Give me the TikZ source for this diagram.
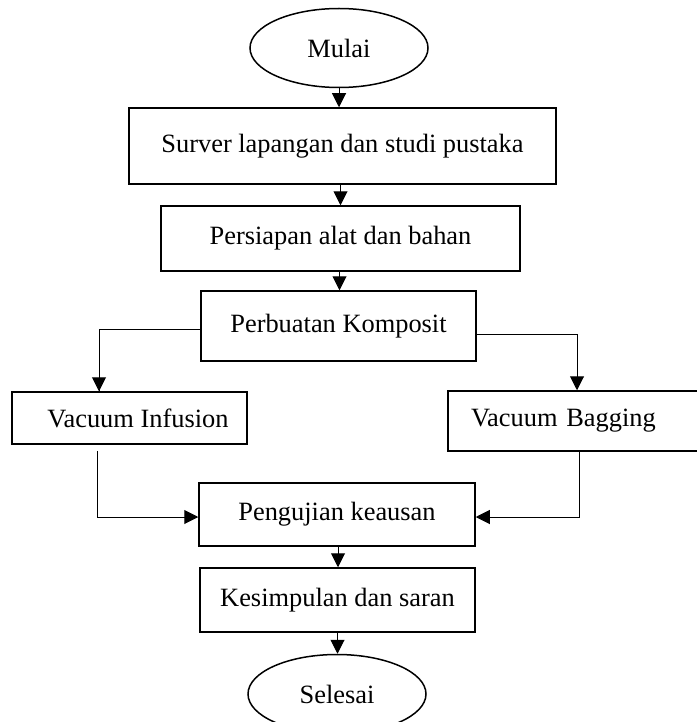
\documentclass[tikz,border=0pt]{standalone}
\usepackage{fontspec}
\setmainfont{Liberation Serif}
\usepackage{tikz}
\usetikzlibrary{arrows.meta,positioning,calc,shapes.geometric}
\tikzset{
  >=Triangle,
  font=\fontsize{26.4}{30}\selectfont,
  % start / end of the flow
  terminal/.style={
    ellipse,
    draw=black,
    line width=1.5pt,
    inner sep=0pt,
    minimum width=178pt,
    minimum height=79pt
  },
  % ordinary step of the flow
  process/.style={
    rectangle,
    draw=black,
    line width=1.5pt,
    inner sep=0pt,
    align=center
  },
  arrow/.style={
    -{Triangle[length=14pt,width=14pt]},
    line width=1pt,
    draw=black
  },
  link/.style={
    line width=1pt,
    draw=black
  }
}
\begin{document}
\begin{tikzpicture}[x=1pt,y=-1pt]
\useasboundingbox (0,0) rectangle (696,722);

\node[terminal] (mulai) at (339,48) {Mulai};

\node[process, minimum width=427pt, minimum height=76pt] (survei) at (342.5,146)
{Surver lapangan dan studi pustaka};
\node[process, minimum width=359pt, minimum height=65pt] (persiapan) at (340.5,238.5)
{Persiapan alat dan bahan};
\node[process, minimum width=275pt, minimum height=70pt] (komposit) at (338.5,326)
{Perbuatan Komposit};

\node[process, minimum width=235pt, minimum height=52pt] (infusion) at (129.5,418)
{\hspace*{17pt}Vacuum Infusion};
\node[process, text width=228pt, inner xsep=23pt, align=left, minimum height=60pt] (bagging) at (585,421)
{Vacuum Bagging};

\node[process, minimum width=276pt, minimum height=63pt] (pengujian) at (337,514.5)
{Pengujian keausan};
\node[process, minimum width=275pt, minimum height=64pt] (kesimpulan) at (337.5,600)
{Kesimpulan dan saran};

\node[terminal] (selesai) at (337,694) {Selesai};

\draw[arrow] (mulai.south) -- (mulai.south |- survei.north);
\draw[arrow] ([xshift=-2pt]survei.south) -- ([xshift=-2pt]survei.south |- persiapan.north);
\draw[arrow] ([xshift=-1pt]persiapan.south) -- ([xshift=-1pt]persiapan.south |- komposit.north);
\draw[link] ([yshift=-3pt]komposit.west) -| ([xshift=-30.5pt]infusion.north) coordinate (infTop);
\draw[arrow] ([yshift=1pt]infTop) -- (infusion.north -| infTop);
\draw[arrow] ([yshift=-8pt]komposit.east) -| ([xshift=-8pt]bagging.north);
\draw[arrow] ([xshift=-32.5pt,yshift=-6pt]infusion.south) |- ([yshift=-2.5pt]pengujian.west);
\draw[arrow] ([xshift=-6pt]bagging.south) |- ([yshift=-2.5pt]pengujian.east);
\draw[arrow] ([xshift=1pt]pengujian.south) -- ([xshift=1pt]pengujian.south |- kesimpulan.north);
\draw[arrow] (kesimpulan.south) -- (kesimpulan.south |- selesai.north);

\end{tikzpicture}
\end{document}
